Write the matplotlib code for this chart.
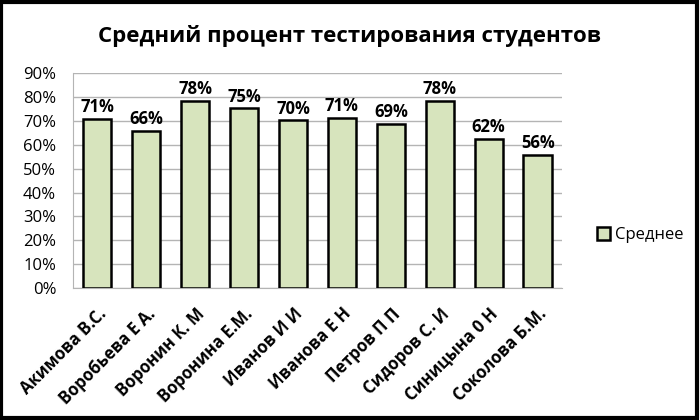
import matplotlib
matplotlib.use("Agg")
import matplotlib.pyplot as plt
from matplotlib.patches import Rectangle
from matplotlib.ticker import FuncFormatter, MultipleLocator

plt.rcParams['font.family'] = ['Open Sans', 'DejaVu Sans']

students = ["Акимова В.С.", "Воробьева Е А.", "Воронин К. М", "Воронина Е.М.",
            "Иванов И И", "Иванова Е Н", "Петров П П", "Сидоров С. И",
            "Синицына 0 Н", "Соколова Б.М."]
averages = [0.708, 0.658, 0.782, 0.752, 0.702, 0.713, 0.688, 0.784, 0.625, 0.556]
series_name = "Среднее"
title = "Средний процент тестирования студентов"

fig = plt.figure(figsize=(7, 4.2), dpi=100)
ax = fig.add_axes([0.104, 0.314, 0.699, 0.512])

x = list(range(len(students)))
ax.bar(x, averages, width=0.58, color="#d7e4bd", edgecolor="black",
       linewidth=1.8, label=series_name, zorder=3)
for xi, v in zip(x, averages):
    ax.text(xi, v + 0.012, f"{round(v*100):.0f}%", ha="center", va="bottom",
            fontsize=12, fontweight="bold", zorder=4)

ax.set_ylim(0, 0.9)
ax.set_xlim(-0.5, len(students) - 0.5)
ax.yaxis.set_major_locator(MultipleLocator(0.1))
ax.yaxis.set_major_formatter(FuncFormatter(lambda v, p: f"{round(v*100):.0f}%"))
ax.grid(axis="y", color="#b4b4b4", linewidth=1, zorder=0)
for s in ["top", "right"]:
    ax.spines[s].set_visible(False)
ax.spines["left"].set_color("#b4b4b4")
ax.spines["bottom"].set_color("#b4b4b4")
ax.tick_params(axis="y", length=0, labelsize=12, pad=12)
ax.tick_params(axis="x", length=0, pad=12)
ax.set_xticks(x)
ax.set_xticklabels(students, rotation=45, ha="right", rotation_mode="anchor",
                   fontsize=12, fontweight="bold")

fig.text(0.5, 0.915, title, ha="center", va="center", fontsize=16, fontweight="bold")

fig.legend(loc="center left", bbox_to_anchor=(0.843, 0.44), frameon=False,
           fontsize=12, handlelength=0.8, handleheight=0.8, handletextpad=0.3,
           borderaxespad=0)

fig.patches.append(Rectangle((0.002, 0.004), 0.994, 0.992, transform=fig.transFigure,
                             fill=False, edgecolor="black", linewidth=3))

fig.savefig("out.png", dpi=100, facecolor="white")
